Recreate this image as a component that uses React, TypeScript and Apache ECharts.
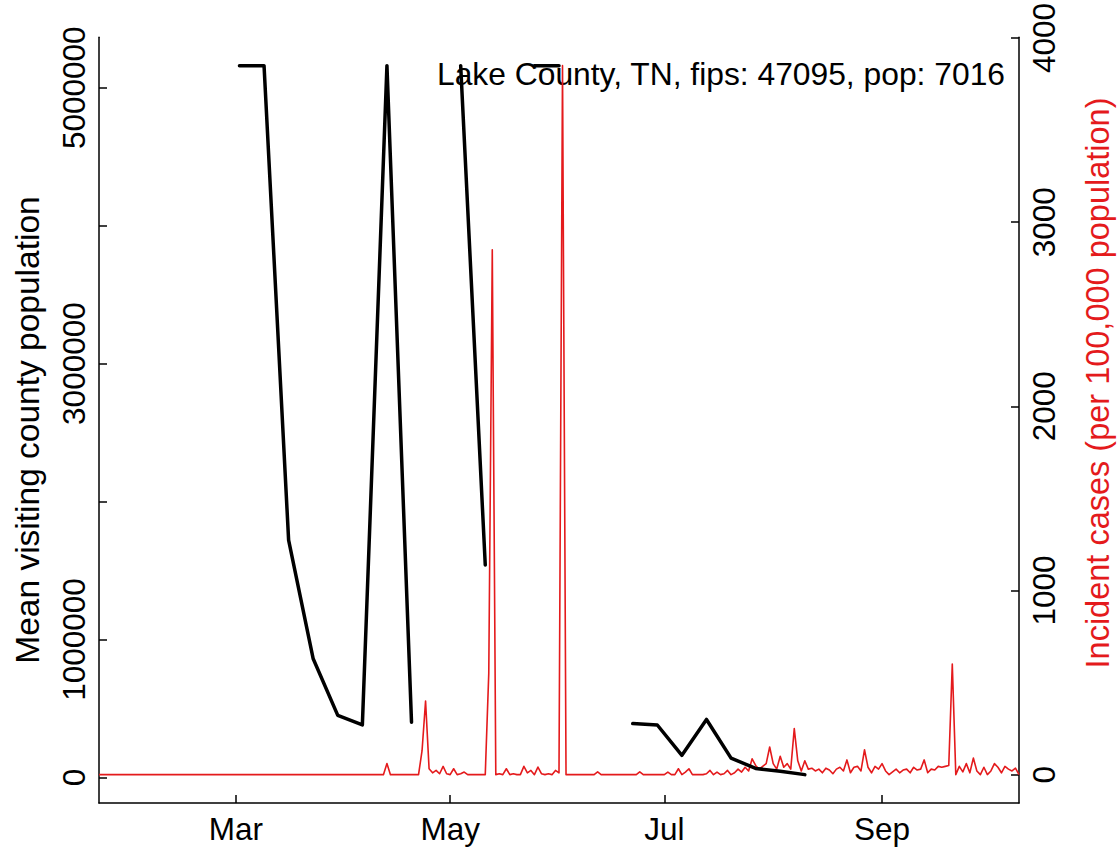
import React, { useEffect, useRef } from "react";
import * as echarts from "echarts";

// ---------- text ----------
const countyLabel = "Lake County, TN, fips: 47095, pop: 7016";
const leftAxisTitle = "Mean visiting county population";
const rightAxisTitle = "Incident cases (per 100,000 population)";

// ---------- incident cases (per 100,000), daily from 2020-01-22 ----------
const caseStartDate = "2020-01-22";
const casesJan = [0, 0, 0, 0, 0, 0, 0, 0, 0, 0];
const casesFeb = [0, 0, 0, 0, 0, 0, 0, 0, 0, 0, 0, 0, 0, 0, 0, 0, 0, 0, 0, 0, 0, 0, 0, 0, 0, 0, 0, 0, 0];
const casesMar = [0, 0, 0, 0, 0, 0, 0, 0, 0, 0, 0, 0, 0, 0, 0, 0, 0, 0, 0, 0, 0, 0, 0, 0, 0, 0, 0, 0, 0, 0, 0];
const casesApr = [0, 0, 0, 0, 0, 0, 0, 0, 0, 0, 0, 0, 60, 0, 0, 0, 0, 0, 0, 0, 0, 0, 130, 400, 32, 10, 23, 5, 45, 5];
const casesMay = [0, 32, 0, 5, 14, 0, 0, 0, 0, 0, 0, 550, 2850, 0, 5, 0, 32, 0, 5, 0, 0, 45, 10, 23, 0, 41, 5, 0, 5, 0, 23];
const casesJun = [10, 3850, 0, 0, 0, 0, 0, 0, 0, 0, 0, 15, 0, 0, 0, 0, 0, 0, 0, 0, 0, 0, 0, 15, 0, 0, 0, 0, 0, 0];
const casesJul = [0, 14, 0, 0, 32, 0, 14, 32, 0, 0, 0, 0, 5, 23, 0, 14, 0, 5, 23, 0, 10, 30, 14, 40, 20, 86, 50, 30, 45, 60, 150];
const casesAug = [60, 30, 100, 40, 60, 30, 250, 75, 20, 75, 30, 35, 20, 30, 10, 35, 25, 5, 30, 40, 20, 80, 10, 40, 45, 20, 135, 40, 10, 45, 30];
const casesSep = [60, 20, 0, 15, 30, 10, 25, 30, 10, 40, 25, 30, 80, 10, 30, 25, 45, 40, 45, 50, 600, 0, 45, 15, 60, 10, 90, 20, 0, 40];
const casesOct = [0, 20, 60, 40, 10, 45, 30, 20, 35, 0];

// ---------- mean visiting county population, weekly ----------
const visitDates = [
  "2020-03-02", "2020-03-09", "2020-03-16", "2020-03-23", "2020-03-30", "2020-04-06",
  "2020-04-13", "2020-04-20", "2020-04-27", "2020-05-04", "2020-05-11", "2020-05-18",
  "2020-05-25", "2020-06-01", "2020-06-08", "2020-06-15", "2020-06-22", "2020-06-29",
  "2020-07-06", "2020-07-13", "2020-07-20", "2020-07-27", "2020-08-03", "2020-08-10",
];
const visitValues: (number | null)[] = [
  5160000, 5160000, 1720000, 860000, 450000, 380000,
  5160000, 400000, null, 5160000, 1540000, null,
  5160000, 5160000, null, null, 390000, 380000,
  160000, 420000, 140000, 65000, 45000, 20000,
];

// ---------- axis ticks ----------
const monthTickDates = ["2020-03-01", "2020-05-01", "2020-07-01", "2020-09-01"];
const monthTickLabels = ["Mar", "May", "Jul", "Sep"];
const leftTickValues = [0, 1000000, 2000000, 3000000, 4000000, 5000000];
const leftLabelValues = [0, 1000000, 3000000, 5000000];
const rightTickValues = [0, 1000, 2000, 3000, 4000];

const FONT = "'Liberation Sans', Arial, Helvetica, sans-serif";
const RED = "#e41a1c";
const DAY = 86400000;

function toTs(s: string): number {
  const [y, m, d] = s.split("-").map(Number);
  return Date.UTC(y, m - 1, d);
}

export default function App() {
  const ref = useRef<HTMLDivElement>(null);

  useEffect(() => {
    document.body.style.margin = "0";
    if (!ref.current) return;
    const chart = echarts.init(ref.current, undefined, { renderer: "svg" });

    const caseValues = [
      ...casesJan, ...casesFeb, ...casesMar, ...casesApr, ...casesMay,
      ...casesJun, ...casesJul, ...casesAug, ...casesSep, ...casesOct,
    ];
    const t0 = toTs(caseStartDate);
    const caseData = caseValues.map((v, i) => [t0 + i * DAY, v]);
    const xMin = t0;
    const xMax = t0 + (caseValues.length - 1) * DAY;

    const visitData = visitDates.map((d, i) => [toTs(d), visitValues[i]]);
    const vv = visitValues.filter((v): v is number => v !== null);
    const vLo = Math.min(...vv);
    const vHi = Math.max(...vv);
    const vPad = (vHi - vLo) * 0.04;
    const cLo = Math.min(...caseValues);
    const cHi = Math.max(...caseValues);
    const cPad = (cHi - cLo) * 0.04;

    const monthTs = monthTickDates.map(toTs);

    const labelStyle = { fontSize: 31.5, color: "#000", fontFamily: FONT };

    chart.setOption({
      animation: false,
      grid: { left: 99, top: 34, width: 920, height: 769 },
      xAxis: {
        type: "value",
        min: xMin,
        max: xMax,
        axisLine: { show: true, onZero: false, lineStyle: { color: "#000", width: 1.5 } },
        axisTick: { show: true, inside: true, length: 8, customValues: monthTs, lineStyle: { color: "#000", width: 1.5 } },
        axisLabel: {
          ...labelStyle,
          customValues: monthTs,
          margin: 10,
          formatter: (v: number) => {
            const i = monthTs.indexOf(v);
            return i >= 0 ? monthTickLabels[i] : "";
          },
        },
        splitLine: { show: false },
      },
      yAxis: [
        {
          type: "value",
          position: "left",
          min: vLo - vPad,
          max: vHi + vPad,
          axisLine: { show: true, onZero: false, lineStyle: { color: "#000", width: 1.5 } },
          axisTick: { show: true, inside: true, length: 8, customValues: leftTickValues, lineStyle: { color: "#000", width: 1.5 } },
          axisLabel: {
            ...labelStyle,
            customValues: leftLabelValues,
            rotate: 90,
            margin: 9,
            formatter: (v: number) => String(Math.round(v)),
          },
          splitLine: { show: false },
        },
        {
          type: "value",
          position: "right",
          min: cLo - cPad,
          max: cHi + cPad,
          axisLine: { show: true, onZero: false, lineStyle: { color: "#000", width: 1.5 } },
          axisTick: { show: true, inside: true, length: 8, customValues: rightTickValues, lineStyle: { color: "#000", width: 1.5 } },
          axisLabel: {
            ...labelStyle,
            customValues: rightTickValues,
            rotate: 90,
            margin: 9,
            formatter: (v: number) => String(Math.round(v)),
          },
          splitLine: { show: false },
        },
      ],
      series: [
        {
          name: "Incident cases",
          type: "line",
          yAxisIndex: 1,
          data: caseData,
          symbol: "none",
          silent: true,
          lineStyle: { color: RED, width: 1.6, join: "round" },
          z: 2,
        },
        {
          name: "Mean visiting county population",
          type: "line",
          yAxisIndex: 0,
          data: visitData,
          connectNulls: false,
          symbol: "none",
          silent: true,
          lineStyle: { color: "#000", width: 3.5, cap: "round", join: "round" },
          z: 3,
        },
      ],
      graphic: [
        {
          type: "text",
          x: 27,
          y: 430,
          rotation: Math.PI / 2,
          style: { text: leftAxisTitle, fill: "#000", font: `33.5px ${FONT}`, align: "center", verticalAlign: "middle" },
        },
        {
          type: "text",
          x: 1098,
          y: 383,
          rotation: Math.PI / 2,
          style: { text: rightAxisTitle, fill: RED, font: `32.5px ${FONT}`, align: "center", verticalAlign: "middle" },
        },
        {
          type: "text",
          x: 1005,
          y: 74,
          style: { text: countyLabel, fill: "#000", font: `31.8px ${FONT}`, align: "right", verticalAlign: "middle" },
        },
      ],
    });

    return () => chart.dispose();
  }, []);

  return <div ref={ref} style={{ width: 1119, height: 851 }} />;
}
